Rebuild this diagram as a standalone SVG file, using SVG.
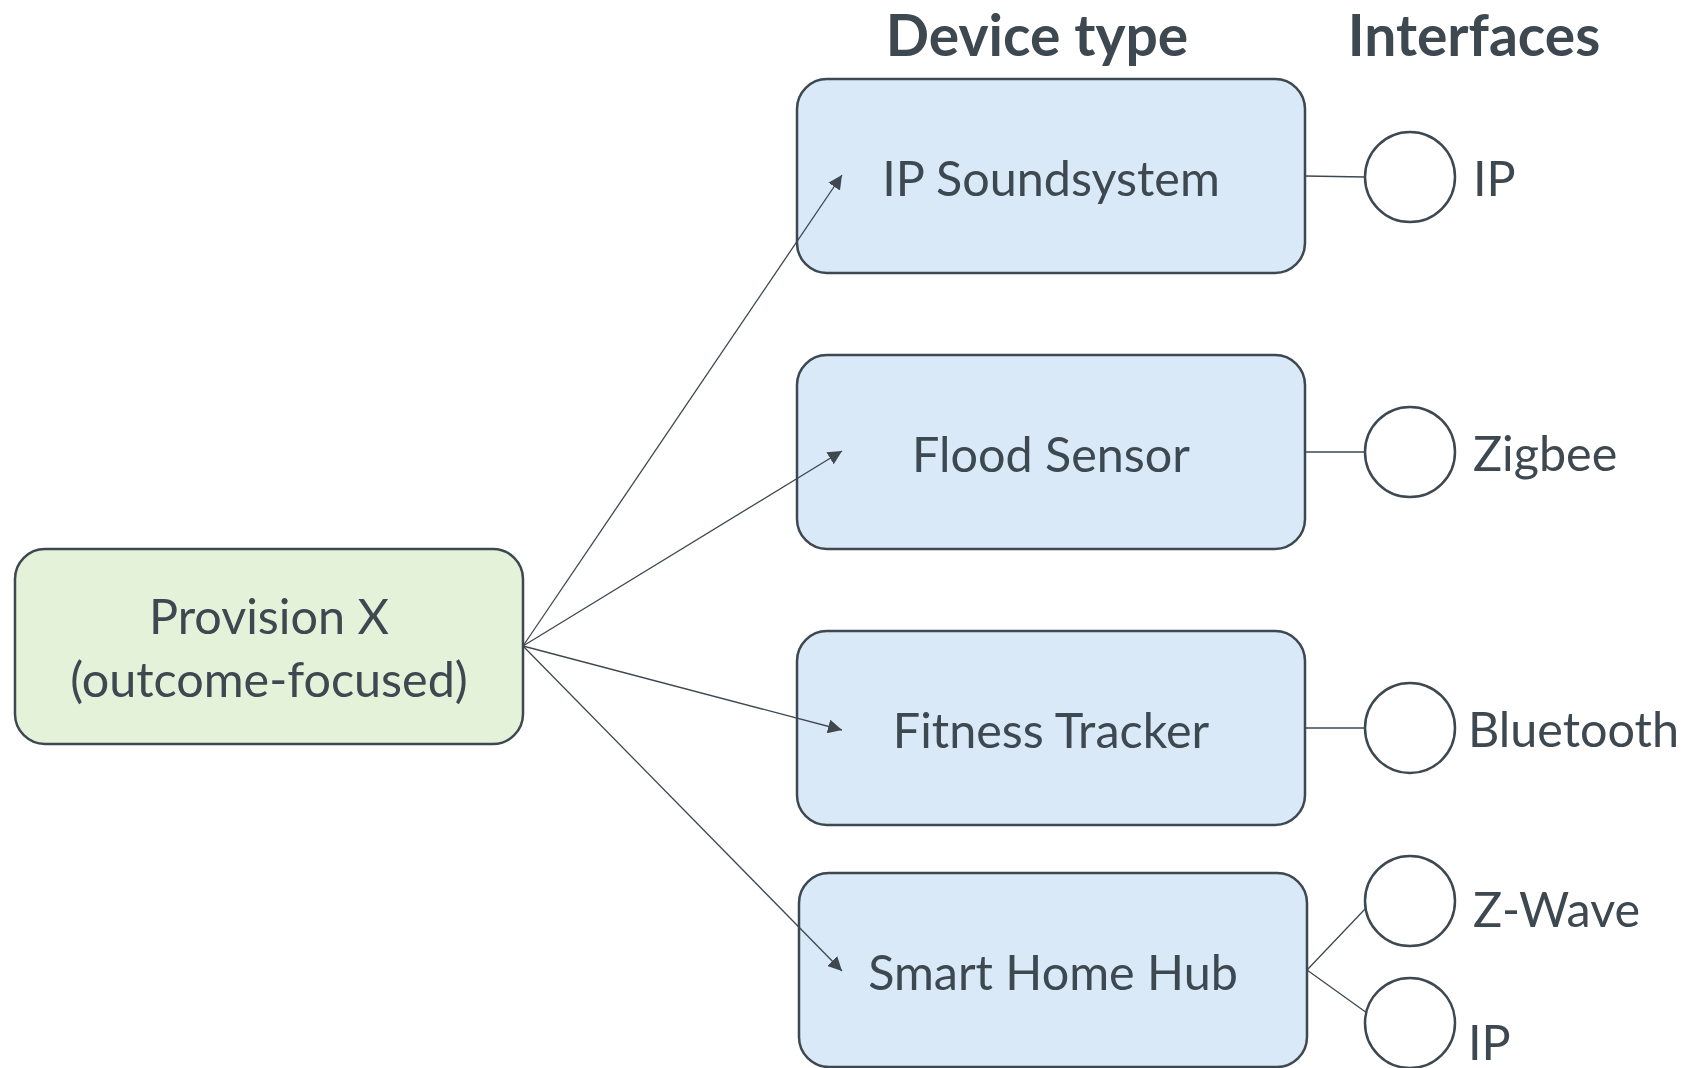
<svg xmlns="http://www.w3.org/2000/svg" width="1688" height="1068" viewBox="0 0 1688 1068">
  <defs>
    <marker id="arrow" viewBox="0 0 10 10" refX="10" refY="5" markerWidth="14" markerHeight="14" markerUnits="userSpaceOnUse" orient="auto">
      <path d="M0,0 L10,5 L0,10 Z" fill="#3d4850"/>
    </marker>
    <style>
      .box { stroke: #3d4850; stroke-width: 2.5; }
      .source { fill: #e5f2da; }
      .device { fill: #dae9f7; }
      .port { fill: #ffffff; stroke: #3d4850; stroke-width: 2.5; }
      .label { font-family: Lato, "Open Sans", sans-serif; font-size: 48.5px; fill: #3d4850; }
      .mid { text-anchor: middle; }
      .title { font-family: Lato, "Open Sans", sans-serif; font-size: 57px; font-weight: bold; fill: #3d4850; text-anchor: middle; }
      .edge { stroke: #3d4850; stroke-width: 1.3; fill: none; }
    </style>
  </defs>
  <rect width="1688" height="1068" fill="#ffffff"/>

  <!-- column headings -->
  <text class="title" x="1037" y="56">Device type</text>
  <text class="title" x="1474" y="56">Interfaces</text>

  <!-- source node -->
  <g id="provision">
    <rect class="box source" x="15" y="549" width="508" height="195" rx="30"/>
    <text class="label mid" x="269" y="634">Provision X</text>
    <text class="label mid" x="269" y="697">(outcome-focused)</text>
  </g>

  <!-- device nodes -->
  <g id="ip-soundsystem">
    <rect class="box device" x="797" y="79" width="508" height="194" rx="30"/>
    <text class="label mid" x="1051" y="196">IP Soundsystem</text>
  </g>
  <g id="flood-sensor">
    <rect class="box device" x="797" y="355" width="508" height="194" rx="30"/>
    <text class="label mid" x="1051" y="472">Flood Sensor</text>
  </g>
  <g id="fitness-tracker">
    <rect class="box device" x="797" y="631" width="508" height="194" rx="30"/>
    <text class="label mid" x="1051" y="748">Fitness Tracker</text>
  </g>
  <g id="smart-home-hub">
    <rect class="box device" x="799" y="873" width="508" height="194" rx="30"/>
    <text class="label mid" x="1053" y="990">Smart Home Hub</text>
  </g>

  <!-- interface nodes -->
  <g id="if-ip-1">
    <circle class="port" cx="1410" cy="177" r="45"/>
    <text class="label" x="1473" y="196">IP</text>
  </g>
  <g id="if-zigbee">
    <circle class="port" cx="1410" cy="452" r="45"/>
    <text class="label" x="1473" y="471">Zigbee</text>
  </g>
  <g id="if-bluetooth">
    <circle class="port" cx="1410" cy="728" r="45"/>
    <text class="label" x="1468" y="747">Bluetooth</text>
  </g>
  <g id="if-zwave">
    <circle class="port" cx="1410" cy="901" r="45"/>
    <text class="label" x="1473" y="927">Z-Wave</text>
  </g>
  <g id="if-ip-2">
    <circle class="port" cx="1410" cy="1023" r="45"/>
    <text class="label" x="1468" y="1060">IP</text>
  </g>

  <!-- connectors -->
  <g id="connectors">
    <line class="edge" x1="523" y1="646" x2="842" y2="175" marker-end="url(#arrow)"/>
    <line class="edge" x1="523" y1="646" x2="842" y2="451" marker-end="url(#arrow)"/>
    <line class="edge" x1="523" y1="646" x2="842" y2="730" marker-end="url(#arrow)"/>
    <line class="edge" x1="523" y1="646" x2="842" y2="971" marker-end="url(#arrow)"/>
    <line class="edge" x1="1305" y1="176" x2="1365" y2="177"/>
    <line class="edge" x1="1305" y1="452" x2="1365" y2="452"/>
    <line class="edge" x1="1305" y1="728" x2="1365" y2="728"/>
    <line class="edge" x1="1307" y1="970" x2="1366" y2="908"/>
    <line class="edge" x1="1307" y1="970" x2="1367" y2="1013"/>
  </g>
</svg>
